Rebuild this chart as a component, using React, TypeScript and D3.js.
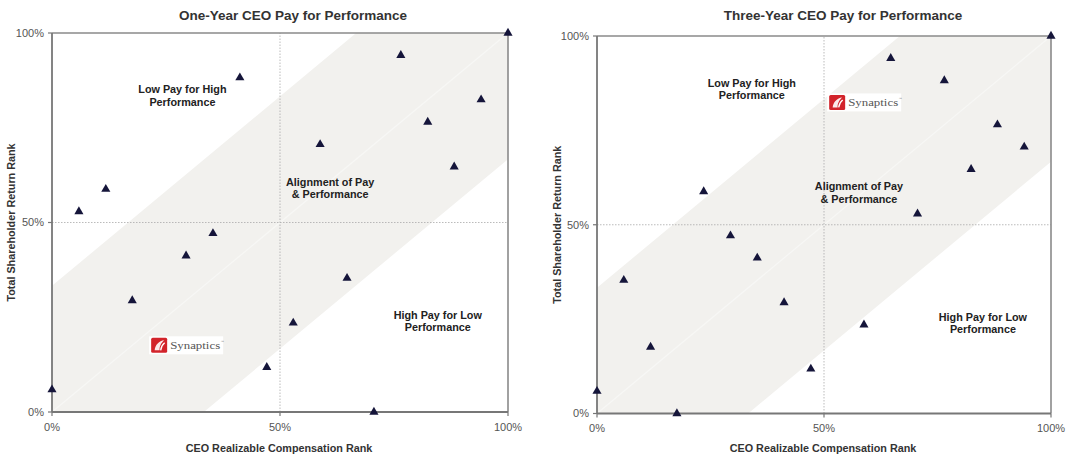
import React from "react";
import * as d3 from "d3";

// ---- Data (percent ranks) ----
const ONE_YEAR_PAY = [100, 76.5, 41.2, 94.1, 82.4, 58.8, 88.2, 11.8, 5.9, 35.3, 29.4, 64.7, 17.6, 52.9, 47.1, 0, 70.6];
const ONE_YEAR_TSR = [100, 94.1, 88.2, 82.4, 76.5, 70.6, 64.7, 58.8, 52.9, 47.1, 41.2, 35.3, 29.4, 23.5, 11.8, 5.9, 0];
const ONE_YEAR_SYNAPTICS = [23.5, 17.6];

const THREE_YEAR_PAY = [100, 64.7, 76.5, 88.2, 94.1, 82.4, 23.5, 70.6, 29.4, 35.3, 5.9, 41.2, 58.8, 11.8, 47.1, 0, 17.6];
const THREE_YEAR_TSR = [100, 94.1, 88.2, 76.5, 70.6, 64.7, 58.8, 52.9, 47.1, 41.2, 35.3, 29.4, 23.5, 17.6, 11.8, 5.9, 0];
const THREE_YEAR_SYNAPTICS = [52.9, 82.4];

const TICKS = [0, 50, 100];
const BAND = 33.3; // half-width of the alignment band, in rank points

const REGION_LABELS = [
  ["Low Pay for High", "Performance"],
  ["Alignment of Pay", "& Performance"],
  ["High Pay for Low", "Performance"],
];
const ONE_YEAR_LABEL_POS = [[28.6, 83.5], [61, 59.1], [84.6, 24]];
const THREE_YEAR_LABEL_POS = [[34.1, 86], [57.7, 58.6], [85, 24]];

const FONT = "'Liberation Sans', Arial, Helvetica, sans-serif";

type PanelProps = {
  title: string;
  titleX: number;
  box: { l: number; r: number; t: number; b: number };
  pay: number[];
  tsr: number[];
  syn: number[];
  labelPos: number[][];
  yLabelX: number;
  xLabelX: number;
};

function Logo({ x, y }: { x: number; y: number }) {
  const ix = x - 8;
  const iy = y - 7.5;
  return (
    <g>
      <rect x={ix - 2} y={iy - 1.5} width={74} height={18} fill="#ffffff" />
      <rect x={ix} y={iy} width={16} height={15} rx={1.5} fill="#d2232a" />
      <path
        d={`M${ix + 3.5},${iy + 12.5} C${ix + 4},${iy + 7} ${ix + 8},${iy + 3} ${ix + 13},${iy + 2.5} C${ix + 10},${iy + 5} ${ix + 8},${iy + 9} ${ix + 8.5},${iy + 12.5} Z`}
        fill="#ffffff"
        opacity={0.9}
      />
      <path
        d={`M${ix + 9.5},${iy + 12.5} C${ix + 10},${iy + 9} ${ix + 11.5},${iy + 6.5} ${ix + 13.5},${iy + 5}`}
        stroke="#ffffff"
        strokeWidth={1.3}
        fill="none"
      />
      <text
        x={ix + 19}
        y={iy + 11}
        fontFamily="'Liberation Serif', 'DejaVu Serif', serif"
        fontSize={10.5}
        fill="#555"
        textLength={50}
        lengthAdjust="spacingAndGlyphs"
      >
        Synaptics
      </text>
      <text x={ix + 69.5} y={iy + 5} fontFamily={FONT} fontSize={3.5} fill="#888">
        ™
      </text>
    </g>
  );
}

function Panel(p: PanelProps) {
  const { box } = p;
  const x = d3.scaleLinear().domain([0, 100]).range([box.l, box.r]);
  const y = d3.scaleLinear().domain([0, 100]).range([box.b, box.t]);
  const bandPts: [number, number][] = [
    [0, 0],
    [0, BAND],
    [100 - BAND, 100],
    [100, 100],
    [100, 100 - BAND],
    [BAND, 0],
  ];
  const bandPath = d3.line<[number, number]>().x((d) => x(d[0])).y((d) => y(d[1]))(bandPts) + "Z";
  const tri = d3.symbol().type(d3.symbolTriangle).size(36)();
  const midY = (box.t + box.b) / 2;
  return (
    <g>
      <text x={p.titleX} y={20} textAnchor="middle" fontFamily={FONT} fontWeight="bold" fontSize={13.5} fill="#333">
        {p.title}
      </text>
      <path d={bandPath} fill="#f2f1ee" />
      <line x1={x(0)} y1={y(0)} x2={x(100)} y2={y(100)} stroke="#f7f7f5" strokeWidth={1.2} />
      {/* 50% grid lines */}
      <line x1={x(50)} x2={x(50)} y1={y(0)} y2={y(100)} stroke="#aaa" strokeWidth={0.8} strokeDasharray="1.5,1.5" />
      <line x1={x(0)} x2={x(100)} y1={y(50)} y2={y(50)} stroke="#aaa" strokeWidth={0.8} strokeDasharray="1.5,1.5" />
      {/* frame */}
      <line x1={x(0)} x2={x(100)} y1={y(100)} y2={y(100)} stroke="#8a8a8a" strokeWidth={1.6} />
      <line x1={x(100)} x2={x(100)} y1={y(0)} y2={y(100)} stroke="#8a8a8a" strokeWidth={1.6} />
      <line x1={x(0)} x2={x(100)} y1={y(0)} y2={y(0)} stroke="#777" strokeWidth={1.8} />
      <line x1={x(0)} x2={x(0)} y1={y(0)} y2={y(100)} stroke="#777" strokeWidth={1.8} />
      {TICKS.map((t) => (
        <g key={"yt" + t}>
          <line x1={x(0) - 4} x2={x(0)} y1={y(t)} y2={y(t)} stroke="#777" strokeWidth={1.2} />
          <text x={x(0) - 8} y={y(t)} dy="0.35em" textAnchor="end" fontFamily={FONT} fontSize={11} fill="#555">
            {t + "%"}
          </text>
        </g>
      ))}
      {TICKS.map((t) => (
        <g key={"xt" + t}>
          <line x1={x(t)} x2={x(t)} y1={y(0)} y2={y(0) + 4} stroke="#777" strokeWidth={1.2} />
          <text x={x(t)} y={y(0) + 15} dy="0.35em" textAnchor="middle" fontFamily={FONT} fontSize={11} fill="#555">
            {t + "%"}
          </text>
        </g>
      ))}
      <text
        transform={`translate(${p.yLabelX},${midY}) rotate(-90)`}
        dy="0.35em"
        textAnchor="middle"
        fontFamily={FONT}
        fontWeight="bold"
        fontSize={10.8}
        fill="#333"
      >
        Total Shareholder Return Rank
      </text>
      <text x={p.xLabelX} y={448} dy="0.35em" textAnchor="middle" fontFamily={FONT} fontWeight="bold" fontSize={10.8} fill="#333">
        CEO Realizable Compensation Rank
      </text>
      {REGION_LABELS.map((lines, i) => (
        <text
          key={"rl" + i}
          x={x(p.labelPos[i][0])}
          y={y(p.labelPos[i][1])}
          textAnchor="middle"
          fontFamily={FONT}
          fontWeight="bold"
          fontSize={10.8}
          fill="#222"
        >
          <tspan x={x(p.labelPos[i][0])} dy="-0.2em">
            {lines[0]}
          </tspan>
          <tspan x={x(p.labelPos[i][0])} dy="1.15em">
            {lines[1]}
          </tspan>
        </text>
      ))}
      {p.pay.map((v, i) => (
        <path key={"pt" + i} d={tri || ""} transform={`translate(${x(v)},${y(p.tsr[i])})`} fill="#15153a" />
      ))}
      <Logo x={x(p.syn[0])} y={y(p.syn[1])} />
    </g>
  );
}

export default function App() {
  return (
    <svg
      width={1066}
      height={457}
      style={{ position: "absolute", left: 0, top: 0, background: "#fff" }}
    >
      <rect width={1066} height={457} fill="#fff" />
      <Panel
        title="One-Year CEO Pay for Performance"
        titleX={293}
        box={{ l: 52, r: 508, t: 33, b: 412 }}
        pay={ONE_YEAR_PAY}
        tsr={ONE_YEAR_TSR}
        syn={ONE_YEAR_SYNAPTICS}
        labelPos={ONE_YEAR_LABEL_POS}
        yLabelX={11}
        xLabelX={279}
      />
      <Panel
        title="Three-Year CEO Pay for Performance"
        titleX={843}
        box={{ l: 597, r: 1051, t: 36, b: 413.5 }}
        pay={THREE_YEAR_PAY}
        tsr={THREE_YEAR_TSR}
        syn={THREE_YEAR_SYNAPTICS}
        labelPos={THREE_YEAR_LABEL_POS}
        yLabelX={557}
        xLabelX={823}
      />
    </svg>
  );
}
